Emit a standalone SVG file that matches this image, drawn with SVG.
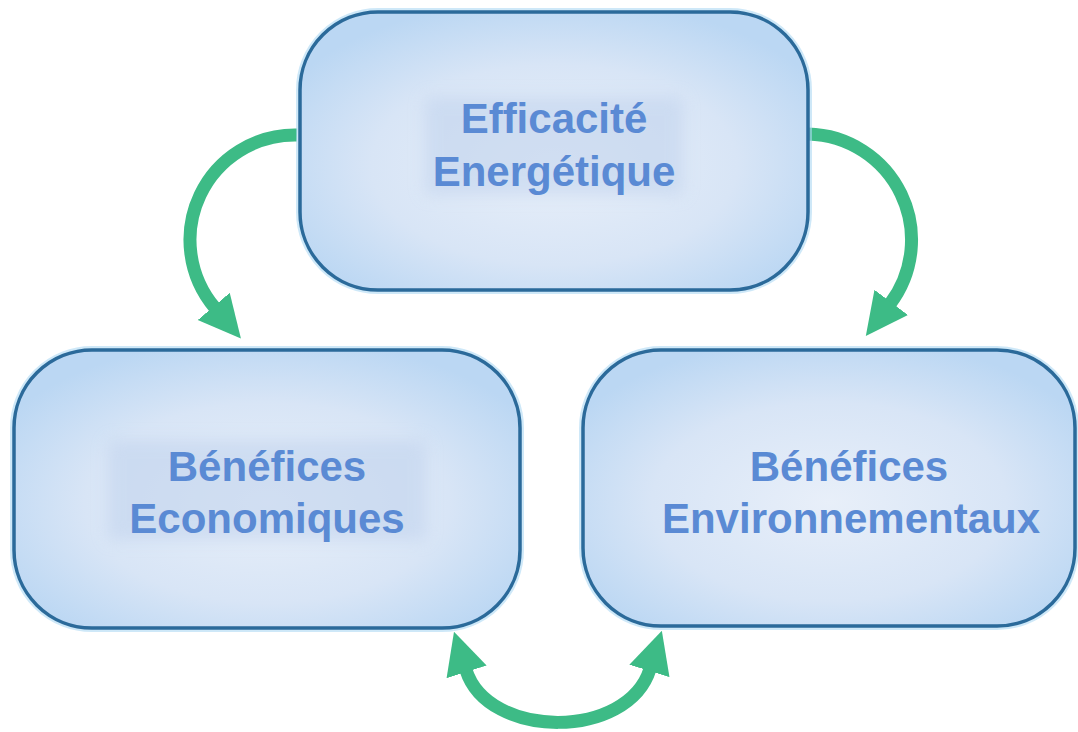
<svg xmlns="http://www.w3.org/2000/svg" width="1078" height="732" viewBox="0 0 1078 732">
<defs>
<radialGradient id="boxGrad" cx="50%" cy="55%" r="60%">
<stop offset="0" stop-color="#e8eff9"/>
<stop offset="0.6" stop-color="#d8e5f6"/>
<stop offset="1" stop-color="#bbd7f3"/>
</radialGradient>
<filter id="blur" x="-20%" y="-30%" width="140%" height="160%"><feGaussianBlur stdDeviation="8"/></filter>
<marker id="head" viewBox="0 -22 42 44" markerWidth="42" markerHeight="44" refX="2" refY="0" orient="auto-start-reverse" markerUnits="userSpaceOnUse">
<path d="M0,-21 L42,0 L0,21 Z" fill="#3dbb86"/>
</marker>
<style>
.glow{fill:none;stroke:#aed8f3;stroke-width:8;opacity:0.6}
.box{fill:url(#boxGrad);stroke:#2b6a9a;stroke-width:3.5}
.tbg{fill:#c2d4ee;opacity:0.6;filter:url(#blur)}
.lbl{font-family:"Liberation Sans",Arial,sans-serif;font-weight:bold;font-size:42px;fill:#5a8ad4;text-anchor:middle}
.arr{fill:none;stroke:#3dbb86;stroke-width:13}
</style>
</defs>
<rect width="1078" height="732" fill="#ffffff"/>
<g id="connectors">
<path class="arr" d="M297,135 A105,105 0 0 0 215,308" marker-end="url(#head)"/>
<path class="arr" d="M808,134 A106,106 0 0 1 890,304" marker-end="url(#head)"/>
<path class="arr" d="M466,670 C488,740 628,740 650,669" marker-start="url(#head)" marker-end="url(#head)"/>
</g>
<g id="node-efficacite">
<rect class="glow" x="300" y="12" width="508" height="278" rx="78"/>
<rect class="box" x="300" y="12" width="508" height="278" rx="78"/>
<rect class="tbg" x="425" y="97" width="258" height="98"/>
<text class="lbl" x="554" y="133">Efficacité</text>
<text class="lbl" x="554" y="186">Energétique</text>
</g>
<g id="node-economiques">
<rect class="glow" x="14" y="350" width="506" height="278" rx="78"/>
<rect class="box" x="14" y="350" width="506" height="278" rx="78"/>
<rect class="tbg" x="108" y="440" width="318" height="100"/>
<text class="lbl" x="267" y="481">Bénéfices</text>
<text class="lbl" x="267" y="533">Economiques</text>
</g>
<g id="node-environnementaux">
<rect class="glow" x="583" y="350" width="492" height="276" rx="78"/>
<rect class="box" x="583" y="350" width="492" height="276" rx="78"/>
<text class="lbl" x="849" y="481">Bénéfices</text>
<text class="lbl" x="851" y="533">Environnementaux</text>
</g>
</svg>
